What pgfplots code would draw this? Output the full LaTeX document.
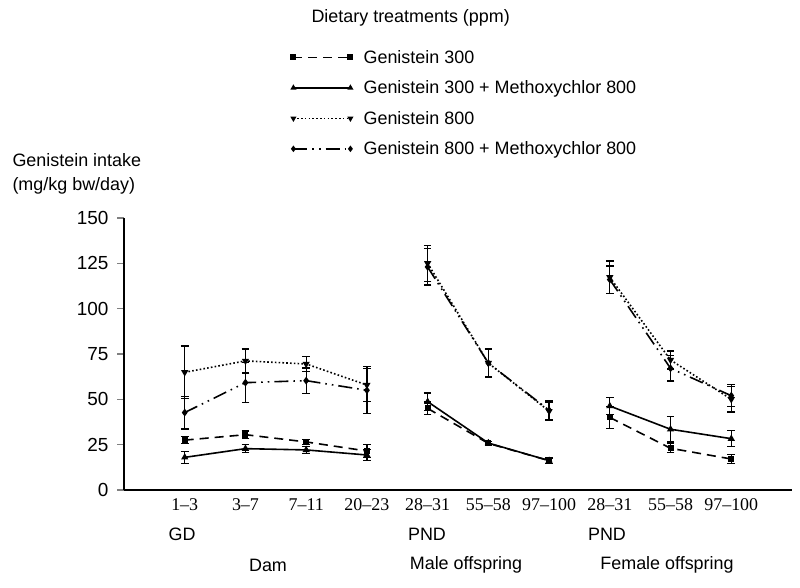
\documentclass[border=0pt]{standalone}
\usepackage{pgfplots}
\pgfplotsset{compat=1.18}
\usepackage{fontspec}
\setmainfont{Liberation Sans}
\newfontfamily\timesf[Ligatures=TeX]{Liberation Serif}
\newcommand{\fs}{\fontsize{18}{21}\selectfont}
\begin{document}
\begin{tikzpicture}
\useasboundingbox (0,0) rectangle (800bp,588bp);
\begin{axis}[
  at={(124bp,98bp)}, anchor=south west,
  scale only axis, width=668bp, height=272bp,
  xmin=0, xmax=11, ymin=0, ymax=150,
  axis x line=bottom, axis y line=left,
  axis line style={-, line width=1.2bp},
  ytick={0,25,50,75,100,125,150},
  xtick={1,2,3,4,5,6,7,8,9,10},
  xticklabels={1--3,3--7,7--11,20--23,28--31,55--58,97--100,28--31,55--58,97--100},
  x tick style={draw=none},
  y tick style={line width=1.2bp},
  tick align=outside, major tick length=7bp,
  /pgf/number format/assume math mode=true,
  yticklabel style={font=\fontsize{19}{22}\selectfont, xshift=-5bp},
  xticklabel style={font=\timesf\fontsize{18}{21}\selectfont, yshift=2bp},
  every axis plot/.append style={line width=1.6bp, mark size=2.6bp},
  error bars/error bar style={solid, line width=1.3bp},
  error bars/error mark options={rotate=90, mark size=3.8bp, line width=1.3bp},
  legend style={at={(0.250,1.625)}, anchor=north west, draw=none, fill=none,
    font=\fs, row sep=12bp, inner sep=0pt, cells={anchor=west},
    /tikz/every odd column/.append style={column sep=9bp}},
  legend cell align=left,
  legend image code/.code={\draw[#1, mark size=2bp] plot coordinates {(0bp,0bp) (57bp,0bp)};},
  clip=false,
]
% Genistein 300
\addplot[black, dash pattern=on 9bp off 6bp, mark=square*, mark options={solid, mark size=2.2bp},
  error bars/.cd, y dir=both, y explicit] coordinates {
  (1,27.5) +- (0,2)  (2,30.5) +- (0,2)  (3,26.5) +- (0,1.5)  (4,21.5) +- (0,3.5)
};
\addlegendentry{Genistein 300}
% Genistein 300 + Methoxychlor 800
\addplot[black, solid, mark=triangle*, mark options={solid},
  error bars/.cd, y dir=both, y explicit] coordinates {
  (1,18) +- (0,3.3)  (2,22.8) +- (0,2.2)  (3,22.1) +- (0,2)  (4,19.3) +- (0,3.2)
};
\addlegendentry{Genistein 300 + Methoxychlor 800}
% Genistein 800
\addplot[black, dash pattern=on 1.6bp off 2.2bp, mark=triangle*, mark options={solid, rotate=180},
  error bars/.cd, y dir=both, y explicit] coordinates {
  (1,64.9) +- (0,14.5)  (2,71.2) +- (0,6.6)  (3,69.5) +- (0,4)  (4,57.9) +- (0,9)
};
\addlegendentry{Genistein 800}
% Genistein 800 + Methoxychlor 800
\addplot[black, dash pattern=on 14bp off 5bp on 1.6bp off 5bp on 1.6bp off 5bp, mark=diamond*, mark options={solid},
  error bars/.cd, y dir=both, y explicit] coordinates {
  (1,42.7) +- (0,9)  (2,59.2) +- (0,11)  (3,60.3) +- (0,7)  (4,55) +- (0,13)
};
\addlegendentry{Genistein 800 + Methoxychlor 800}
% Male offspring
\addplot[black, dash pattern=on 9bp off 6bp, mark=square*, mark options={solid, mark size=2.2bp}, forget plot,
  error bars/.cd, y dir=both, y explicit] coordinates {
  (5,45) +- (0,3.5)  (6,25.7) +- (0,1)  (7,16.2) +- (0,1.5)
};
\addplot[black, solid, mark=triangle*, mark options={solid}, forget plot,
  error bars/.cd, y dir=both, y explicit] coordinates {
  (5,48.7) +- (0,4.8)  (6,25.9) +- (0,1)  (7,16.2) +- (0,1.5)
};
\addplot[black, dash pattern=on 1.6bp off 2.2bp, mark=triangle*, mark options={solid, rotate=180}, forget plot,
  error bars/.cd, y dir=both, y explicit] coordinates {
  (5,125) +- (0,10)  (6,70) +- (0,8)  (7,43.5) +- (0,5)
};
\addplot[black, dash pattern=on 14bp off 5bp on 1.6bp off 5bp on 1.6bp off 5bp, mark=diamond*, mark options={solid}, forget plot,
  error bars/.cd, y dir=both, y explicit] coordinates {
  (5,123) +- (0,10)  (6,70) +- (0,7.5)  (7,44) +- (0,5)
};
% Female offspring
\addplot[black, dash pattern=on 9bp off 6bp, mark=square*, mark options={solid, mark size=2.2bp}, forget plot,
  error bars/.cd, y dir=both, y explicit] coordinates {
  (8,40) +- (0,6)  (9,23) +- (0,2.5)  (10,17.1) +- (0,2.3)
};
\addplot[black, solid, mark=triangle*, mark options={solid}, forget plot,
  error bars/.cd, y dir=both, y explicit] coordinates {
  (8,46.3) +- (0,4.6)  (9,33.5) +- (0,7)  (10,28.3) +- (0,4.5)
};
\addplot[black, dash pattern=on 1.6bp off 2.2bp, mark=triangle*, mark options={solid, rotate=180}, forget plot,
  error bars/.cd, y dir=both, y explicit] coordinates {
  (8,117.3) +- (0,9)  (9,71.7) +- (0,5)  (10,50) +- (0,7)
};
\addplot[black, dash pattern=on 14bp off 5bp on 1.6bp off 5bp on 1.6bp off 5bp, mark=diamond*, mark options={solid}, forget plot,
  error bars/.cd, y dir=both, y explicit] coordinates {
  (8,116) +- (0,7.5)  (9,67.1) +- (0,7)  (10,52) +- (0,6)
};
\end{axis}
\node[anchor=west, font=\fs] at (308bp,570bp) {Dietary treatments (ppm)};
\node[anchor=west, font=\fs] at (9bp,428bp) {Genistein intake};
\node[anchor=west, font=\fs] at (9bp,402bp) {(mg/kg bw/day)};
\node[font=\fs] at (182bp,54bp) {GD};
\node[font=\fs] at (427bp,54bp) {PND};
\node[font=\fs] at (607bp,54bp) {PND};
\node[font=\fs] at (268bp,23bp) {Dam};
\node[font=\fs] at (466bp,23bp) {Male offspring};
\node[font=\fs] at (667bp,23bp) {Female offspring};
\end{tikzpicture}
\end{document}
